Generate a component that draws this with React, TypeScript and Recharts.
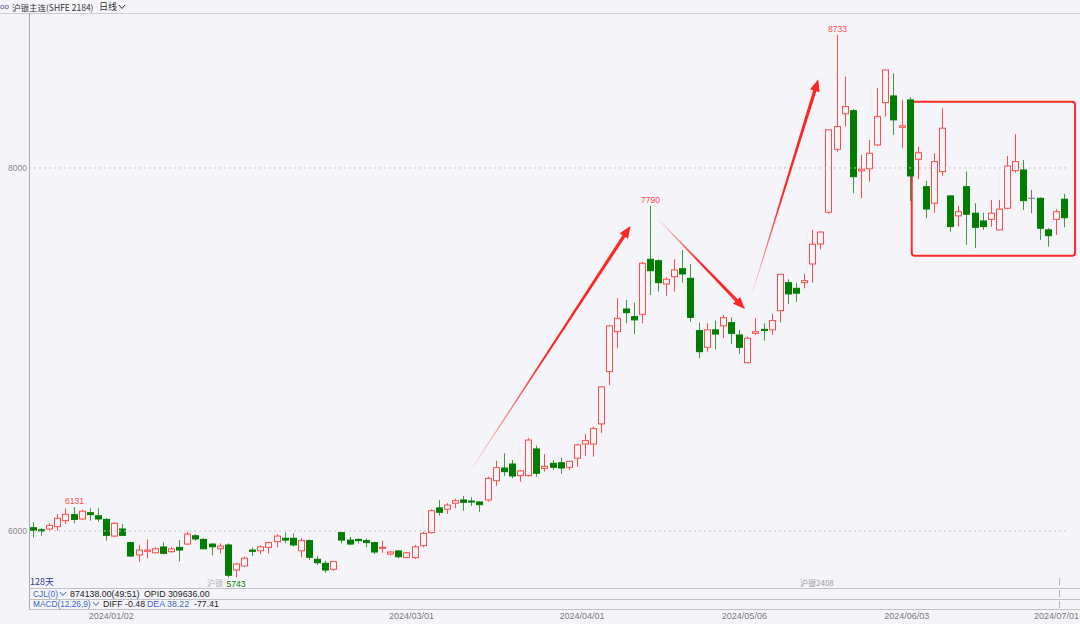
import React from 'react';
import { ComposedChart, Bar, XAxis, YAxis, ReferenceLine, ReferenceArea } from 'recharts';

const BG = '#f5f5f9';
const RED = '#ff4a4a';
const GREEN = '#007d00';
const GREEN_WICK = '#3f9a3f';
const DOJI = '#777777';
const NUM_FONT = '"Liberation Sans", Arial, sans-serif';
const CJK_FONT = '"Noto Sans CJK SC", "Noto Sans", sans-serif';

// ---- categories (trading days) ----
const firstDay = '2023-12-18';
const holidays = [
  '2024-01-01', '2024-02-09', '2024-02-12', '2024-02-13', '2024-02-14', '2024-02-15', '2024-02-16',
  '2024-04-04', '2024-04-05', '2024-05-01', '2024-05-02', '2024-05-03', '2024-06-10',
];
const candleCount = 128;

function buildTradingDays(start: string, n: number, skip: string[]) {
  const out: string[] = [];
  const d = new Date(start + 'T00:00:00Z');
  while (out.length < n) {
    const wd = d.getUTCDay();
    const iso = d.toISOString().slice(0, 10);
    if (wd !== 0 && wd !== 6 && !skip.includes(iso)) out.push(iso.replace(/-/g, '/'));
    d.setUTCDate(d.getUTCDate() + 1);
  }
  return out;
}
const dates = buildTradingDays(firstDay, candleCount, holidays);

// ---- series values ----
const opens = [
  6018, 6007, 6011, 6024, 6057, 6090, 6066, 6101, 6084, 6064,
  5972, 6011, 5936, 5868, 5888, 5880, 5912, 5886, 5910, 5928,
  5974, 5954, 5928, 5902, 5923, 5785, 5807, 5895, 5891, 5910,
  5941, 5960, 5960, 5891, 5947, 5844, 5822, 5789, 5991, 5950,
  5954, 5947, 5936, 5905, 5873, 5890, 5853, 5853, 5919, 5991,
  6127, 6120, 6153, 6171, 6165, 6160, 6171, 6277, 6347, 6369,
  6305, 6305, 6452, 6345, 6373, 6376, 6351, 6401, 6479, 6479,
  6590, 6878, 7098, 7223, 7181, 7194, 7497, 7489, 7361, 7401,
  7445, 7392, 7104, 7012, 7108, 7130, 7148, 7080, 6927, 7089,
  7111, 7108, 7214, 7368, 7337, 7368, 7471, 7581, 7756, 8103,
  8298, 8316, 7984, 7996, 8127, 8360, 8397, 8224, 8375, 8048,
  7897, 7806, 7980, 7846, 7736, 7897, 7751, 7708, 7717, 7659,
  7778, 7985, 7989, 7833, 7833, 7659, 7717, 7828,
];
const highs = [
  6048, 6015, 6042, 6092, 6125, 6131, 6116, 6125, 6125, 6070,
  6048, 6039, 5941, 5923, 5954, 5910, 5938, 5913, 5950, 5996,
  5982, 5960, 5932, 5932, 5932, 5825, 5859, 5910, 5921, 5941,
  5982, 5991, 5987, 5960, 5954, 5862, 5836, 5836, 5995, 5968,
  5960, 5960, 5941, 5947, 5891, 5895, 5884, 5923, 5996, 6120,
  6170, 6153, 6178, 6193, 6186, 6164, 6299, 6387, 6428, 6391,
  6336, 6511, 6470, 6424, 6391, 6404, 6387, 6480, 6534, 6575,
  6799, 7135, 7282, 7273, 7258, 7484, 7790, 7497, 7398, 7497,
  7548, 7471, 7148, 7144, 7159, 7190, 7177, 7108, 7071, 7172,
  7144, 7196, 7416, 7387, 7368, 7416, 7659, 7651, 8213, 8733,
  8503, 8324, 8072, 8154, 8439, 8544, 8522, 8375, 8391, 8117,
  7930, 8081, 8329, 7851, 7791, 7980, 7806, 7754, 7824, 7824,
  8066, 8187, 8044, 7879, 7839, 7668, 7773, 7857,
];
const lows = [
  5963, 5974, 6005, 6002, 6039, 6042, 6061, 6057, 6051, 5947,
  5965, 5974, 5858, 5831, 5850, 5877, 5872, 5880, 5833, 5923,
  5945, 5899, 5866, 5877, 5743, 5745, 5803, 5862, 5873, 5877,
  5910, 5932, 5914, 5855, 5840, 5813, 5770, 5781, 5932, 5923,
  5932, 5910, 5873, 5880, 5866, 5850, 5850, 5846, 5910, 5987,
  6085, 6094, 6125, 6112, 6138, 6106, 6162, 6248, 6303, 6290,
  6272, 6299, 6299, 6327, 6336, 6314, 6336, 6354, 6413, 6409,
  6540, 6804, 7007, 7144, 7085, 7144, 7300, 7319, 7295, 7319,
  7368, 7153, 6952, 6988, 7001, 7062, 7030, 6975, 6924, 7080,
  7049, 7080, 7148, 7251, 7263, 7337, 7368, 7552, 7747, 8090,
  8228, 7861, 7833, 7925, 8121, 8283, 8182, 8109, 7818, 7938,
  7723, 7754, 7956, 7649, 7677, 7576, 7558, 7659, 7677, 7655,
  7773, 7974, 7769, 7751, 7603, 7567, 7631, 7673,
];
const closes = [
  6004, 6000, 6031, 6070, 6092, 6064, 6109, 6090, 6066, 5976,
  6042, 5976, 5862, 5895, 5895, 5902, 5877, 5902, 5895, 5983,
  5956, 5902, 5913, 5917, 5756, 5818, 5850, 5888, 5913, 5936,
  5972, 5950, 5923, 5947, 5855, 5825, 5785, 5831, 5950, 5928,
  5947, 5936, 5884, 5910, 5884, 5858, 5880, 5913, 5987, 6112,
  6103, 6143, 6167, 6158, 6160, 6145, 6290, 6349, 6327, 6303,
  6331, 6501, 6318, 6356, 6351, 6347, 6384, 6474, 6498, 6564,
  6794, 7130, 7172, 7203, 7163, 7475, 7434, 7368, 7387, 7438,
  7416, 7177, 6988, 7108, 7085, 7175, 7089, 7012, 7062, 7098,
  7104, 7159, 7414, 7306, 7310, 7379, 7580, 7647, 8210, 8228,
  8338, 7952, 7993, 8081, 8283, 8540, 8265, 8232, 7956, 8084,
  7774, 8035, 8219, 7677, 7759, 7745, 7673, 7677, 7751, 7773,
  8011, 8035, 7820, 7833, 7668, 7627, 7759, 7726,
];

// ---- tick labels and annotations ----
const tickDates = ['2024/01/02', '2024/03/01', '2024/04/01', '2024/05/06', '2024/06/03', '2024/07/01'];
const yTicks = [6000, 8000];
const yDomain = [5730, 8840];
const highLabelIdx = [5, 76, 99];
const lowLabelIdx = [24];
const arrowStarts = [[54.0, 6340], [77.1, 7713], [88.5, 7295]];
const arrowEnds = [[73.6, 7680], [87.7, 7223], [96.74, 8489]];
const boxXRange = [108.25, 128.37];
const boxYRange = [7517, 8365];

const data = dates.map((date, i) => ({
  i, date, open: opens[i], high: highs[i], low: lows[i], close: closes[i],
}));
const xTicks = tickDates.map((t) => dates.indexOf(t));

const Candle = (props: any) => {
  const { x, y, width, height, payload, index } = props;
  if (x == null || !payload) return null;
  const { open, close, high, low } = payload;
  const top = Math.min(y, y + height);
  const bot = Math.max(y, y + height);
  const span = high - low || 1;
  const py = (v: number) => bot - ((v - low) / span) * (bot - top);
  const cx = Math.round(x + width / 2) + 0.5;
  const hw = 3;
  const parts: any[] = [];
  if (close > open) {
    parts.push(<line key="w1" x1={cx} x2={cx} y1={py(high)} y2={py(close)} stroke={RED} />);
    parts.push(<line key="w2" x1={cx} x2={cx} y1={py(open)} y2={py(low)} stroke={RED} />);
    parts.push(
      <rect key="b" x={cx - hw} y={py(close)} width={hw * 2} height={Math.max(py(open) - py(close), 1)}
        fill={BG} stroke={RED} />
    );
  } else if (close < open) {
    parts.push(<line key="w" x1={cx} x2={cx} y1={py(high)} y2={py(low)} stroke={GREEN_WICK} />);
    parts.push(
      <rect key="b" x={cx - hw} y={py(open)} width={hw * 2} height={Math.max(py(close) - py(open), 1)}
        fill={GREEN} stroke={GREEN} />
    );
  } else {
    parts.push(<line key="w" x1={cx} x2={cx} y1={py(high)} y2={py(low)} stroke={DOJI} />);
    parts.push(<line key="b" x1={cx - hw - 0.5} x2={cx + hw + 0.5} y1={py(open)} y2={py(open)} stroke={DOJI} />);
  }
  if (highLabelIdx.includes(index)) {
    parts.push(
      <text key="hl" x={cx} y={py(high) - 3} textAnchor="middle" fontSize={8.5} fill={RED} fontFamily={NUM_FONT}>
        {high}
      </text>
    );
  }
  if (lowLabelIdx.includes(index)) {
    parts.push(
      <text key="ll" x={cx - 2} y={py(low) + 9} textAnchor="start" fontSize={8.5} fill={GREEN} fontFamily={NUM_FONT}>
        {low}
      </text>
    );
  }
  return <g>{parts}</g>;
};

const makeArrow = (k: number) => (props: any) => {
  const { x1, y1, x2, y2 } = props;
  if (x1 == null) return null;
  const dx = x2 - x1, dy = y2 - y1;
  const len = Math.hypot(dx, dy) || 1;
  const ux = dx / len, uy = dy / len;
  const nx = -uy, ny = ux;
  const headLen = 12, headW = 5, shaftEnd = 1.7, shaftStart = 0.3;
  const bx = x2 - ux * headLen, by = y2 - uy * headLen;
  const pts = [
    [x1 + nx * shaftStart, y1 + ny * shaftStart],
    [bx + nx * shaftEnd, by + ny * shaftEnd],
    [bx + nx * headW, by + ny * headW],
    [x2, y2],
    [bx - nx * headW, by - ny * headW],
    [bx - nx * shaftEnd, by - ny * shaftEnd],
    [x1 - nx * shaftStart, y1 - ny * shaftStart],
  ].map((p) => p.join(',')).join(' ');
  const id = `arrowGrad${k}`;
  return (
    <g>
      <defs>
        <linearGradient id={id} gradientUnits="userSpaceOnUse" x1={x1} y1={y1} x2={x2} y2={y2}>
          <stop offset="0" stopColor="#ff2626" stopOpacity={0.12} />
          <stop offset="0.45" stopColor="#ff2626" stopOpacity={1} />
          <stop offset="1" stopColor="#ff2626" stopOpacity={1} />
        </linearGradient>
      </defs>
      <polygon points={pts} fill={`url(#${id})`} />
    </g>
  );
};

const BoxShape = (props: any) => {
  const { x, y, width, height } = props;
  if (x == null) return null;
  return <rect x={x} y={y} width={width} height={height} rx={3} ry={3} fill="none" stroke="#ff2a2a" strokeWidth={2} />;
};

const DateTick = (props: any) => {
  const { x, y, payload } = props;
  const last = payload.value === xTicks[xTicks.length - 1];
  return (
    <text x={last ? 1079 : x - 3} y={y + 39} textAnchor={last ? 'end' : 'middle'} fontSize={9} fill="#7a7a7a"
      fontFamily={NUM_FONT}>
      {dates[payload.value]}
    </text>
  );
};

const Chevron = ({ color }: { color: string }) => (
  <svg width={8} height={6} style={{ margin: '0 0 0 1px', verticalAlign: 'middle' }}>
    <polyline points="1,1 4,4.5 7,1" fill="none" stroke={color} strokeWidth={1} />
  </svg>
);

const T = ({ left, cy, children, color = '#222', size = 9, font = NUM_FONT }: any) => (
  <div style={{
    position: 'absolute', left, top: cy - 7, height: 14, lineHeight: '14px', fontSize: size,
    color, fontFamily: font, whiteSpace: 'nowrap', display: 'flex', alignItems: 'center',
  }}>{children}</div>
);

const HLine = ({ top, left = 0, width = 1080, color = '#c0c0c8' }: any) => (
  <div style={{ position: 'absolute', left, top, width, height: 1, background: color }} />
);

const BLUE = '#3c64c8';

export default function App() {
  return (
    <div style={{ position: 'absolute', left: 0, top: 0, width: 1080, height: 624, background: BG, overflow: 'hidden' }}>
      <ComposedChart width={1080} height={624} data={data} margin={{ top: 15.5, right: 12, bottom: 0, left: 0 }}>
        <XAxis type="number" dataKey="i" domain={[-0.5, 127.5]} ticks={xTicks} interval={0}
          height={44} tickSize={0} tickMargin={0} axisLine={false} tickLine={false} tick={<DateTick />} />
        <YAxis type="number" domain={yDomain} ticks={yTicks} width={29} tickSize={0} tickMargin={2}
          axisLine={false} tickLine={false} tick={{ fill: '#8a8a8a', fontSize: 8.5, fontFamily: NUM_FONT }} />
        {yTicks.map((v) => (
          <ReferenceLine key={v} y={v} stroke="#c6c6cc" strokeDasharray="2 3" />
        ))}
        <Bar dataKey={(d: any) => [d.low, d.high]} barSize={6} shape={<Candle />} isAnimationActive={false} />
        {arrowStarts.map((s, k) => (
          <ReferenceLine key={`a${k}`} segment={[{ x: s[0], y: s[1] }, { x: arrowEnds[k][0], y: arrowEnds[k][1] }]}
            ifOverflow="visible" shape={makeArrow(k)} />
        ))}
        <ReferenceArea x1={boxXRange[0]} x2={boxXRange[1]} y1={boxYRange[0]} y2={boxYRange[1]}
          ifOverflow="visible" shape={<BoxShape />} />
      </ComposedChart>

      {/* header */}
      <HLine top={13} color="#cdcdd4" />
      <T left={0} cy={6.5} color="#44507a" size={8}>oo</T>
      <T left={12} cy={6.5} color="#333" size={8.5} font={CJK_FONT}>沪银主连(SHFE 2184)</T>
      <T left={99} cy={6.5} color="#333" size={9} font={CJK_FONT}>日线<Chevron color="#333" /></T>

      {/* left axis line */}
      <div style={{ position: 'absolute', left: 29, top: 13, width: 1, height: 597, background: '#a9a9b2' }} />

      {/* bottom info strip */}
      <T left={30} cy={581.5} color="#34349a" size={9} font={CJK_FONT}>128天</T>
      <T left={207} cy={583} color="#b0b0b0" size={8} font={CJK_FONT}>沪银</T>
      <T left={800} cy={583} color="#9a9a9a" size={8} font={CJK_FONT}>沪银2408</T>
      <div style={{ position: 'absolute', left: 1059, top: 578, width: 1, height: 7, background: '#b8b8c0' }} />
      <div style={{ position: 'absolute', left: 1059, top: 590, width: 1, height: 7, background: '#b8b8c0' }} />
      <div style={{ position: 'absolute', left: 1059, top: 601, width: 1, height: 7, background: '#b8b8c0' }} />
      <HLine top={588} left={29} width={1051} />
      <T left={33} cy={593.5} color={BLUE} size={8.3}>CJL(0)<Chevron color={BLUE} /></T>
      <T left={70} cy={593.5} size={8.8}>874138.00(49:51)</T>
      <T left={144} cy={593.5} size={8.8}>OPID 309636.00</T>
      <HLine top={599} left={29} width={1051} />
      <T left={33} cy={604} color={BLUE} size={8.3}>MACD(12,26,9)<Chevron color={BLUE} /></T>
      <T left={103} cy={604} size={8.8}>DIFF -0.48</T>
      <T left={147} cy={604} color={BLUE} size={8.8}>DEA 38.22</T>
      <T left={194} cy={604} size={8.8}>-77.41</T>
      <HLine top={609} left={29} width={1051} />
    </div>
  );
}
